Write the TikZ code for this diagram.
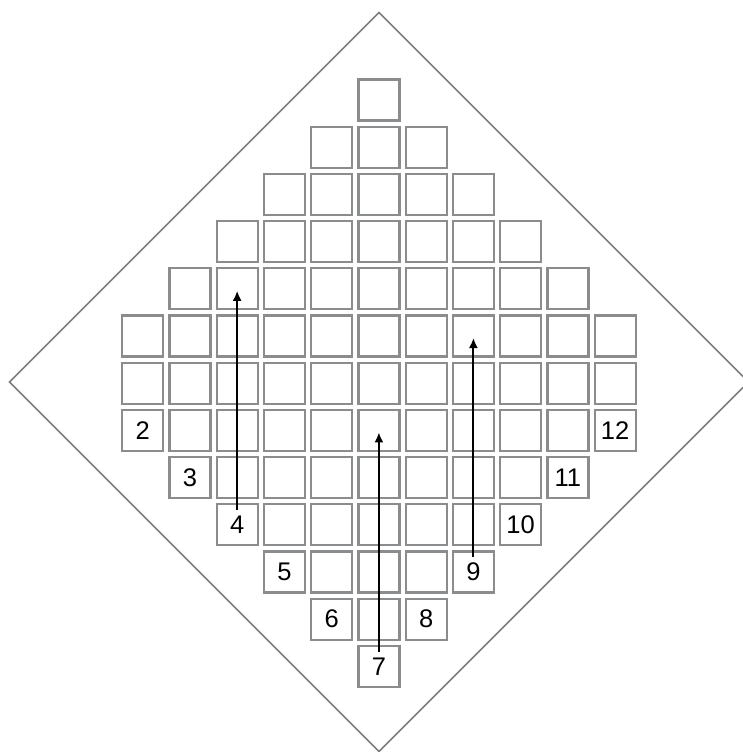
\documentclass[tikz,border=0pt]{standalone}
\usepackage{fontspec}
\setmainfont{Liberation Sans}
\usetikzlibrary{arrows.meta}
\definecolor{cellgray}{RGB}{138,140,142}
\definecolor{edgegray}{RGB}{125,125,125}
\begin{document}
\begin{tikzpicture}[x=1pt,y=-1pt,
  cell/.style={draw=cellgray,line width=2.2pt,minimum size=41pt,inner sep=0pt},
  num/.style={font=\fontsize{25.5}{30}\selectfont,inner sep=0pt,inner ysep=5.5pt},
  arr/.style={-{Latex[length=10pt,width=9pt]},line width=1.9pt,shorten >=2pt}]
\useasboundingbox (0,0) rectangle (743,752);
\clip (0,0) rectangle (743,752);
\draw[edgegray,line width=1.6pt] (379,12.5) -- (9.5,382) -- (379,751.5) -- (748.5,382) -- cycle;
\foreach \r/\a/\b in {1/6/6,2/5/7,3/4/8,4/3/9,5/2/10,6/1/11,7/1/11,8/1/11,9/2/10,10/3/9,11/4/8,12/5/7,13/6/6}{
  \foreach \c in {\a,...,\b}{
    \node[cell] (c-\r-\c) at ({378.9+(\c-6)*47.25},{100+(\r-1)*47.2}) {};
  }
}
\foreach \r/\c/\t in {8/1/2,9/2/3,10/3/4,11/4/5,12/5/6,13/6/7,12/7/8,11/8/9,10/9/10,9/10/11,8/11/12}{
  \node[num] (t-\r-\c) at (c-\r-\c) {\t};
}
\draw[arr] (t-10-3.north) -- (c-5-3.center);
\draw[arr] (t-13-6.north) -- (c-8-6.center);
\draw[arr] (t-11-8.north) -- (c-6-8.center);
\end{tikzpicture}
\end{document}
